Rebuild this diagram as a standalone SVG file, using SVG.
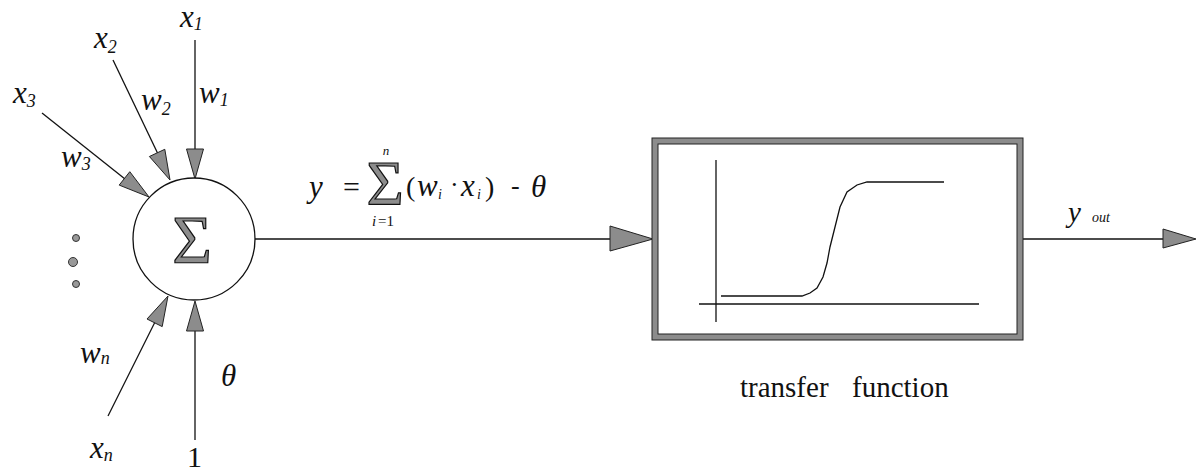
<svg xmlns="http://www.w3.org/2000/svg" width="1201" height="471" viewBox="0 0 1201 471">
<style>
.ln{stroke:#111;stroke-width:1.3;fill:none}
.ah{fill:#8c8c8c;stroke:#222;stroke-width:1}
.sig{fill:#8c8c8c;stroke:#111;stroke-width:1.2}
</style>
<rect width="1201" height="471" fill="#fff"/>
<g id="connectors">
<line class="ln" x1="195" y1="40" x2="195" y2="150"/>
<polygon class="ah" points="186.5,149 203.5,149 195,179"/>
<line class="ln" x1="113" y1="60" x2="158" y2="154"/>
<polygon class="ah" points="149.4,156.5 164.8,149.3 170,180"/>
<line class="ln" x1="42" y1="113" x2="125" y2="179"/>
<polygon class="ah" points="119.2,185.1 129.8,171.7 149,197"/>
<line class="ln" x1="108" y1="416" x2="155" y2="322"/>
<polygon class="ah" points="162.2,326.6 147,319 168,296"/>
<line class="ln" x1="195" y1="440" x2="195" y2="330"/>
<polygon class="ah" points="186.5,331 203.5,331 195,301"/>
<line class="ln" x1="255" y1="239" x2="612" y2="239"/>
<polygon class="ah" points="610,226 653,239 610,251"/>
<line class="ln" x1="1023" y1="239" x2="1165" y2="239"/>
<polygon class="ah" points="1163,229 1196,239 1163,248"/>
</g>
<g id="inputs" font-family="Liberation Serif" fill="#111">
<text font-style="italic" x="180" y="27" font-size="31">x<tspan font-size="18" dy="3">1</tspan></text>
<text font-style="italic" x="199" y="103" font-size="31">w<tspan font-size="18" dy="3">1</tspan></text>
<text font-style="italic" x="94" y="48" font-size="31">x<tspan font-size="18" dy="5">2</tspan></text>
<text font-style="italic" x="141" y="110" font-size="31">w<tspan font-size="18" dy="5">2</tspan></text>
<text font-style="italic" x="13" y="103" font-size="31">x<tspan font-size="18" dy="4">3</tspan></text>
<text font-style="italic" x="61" y="167" font-size="31">w<tspan font-size="18" dy="3">3</tspan></text>
<text font-style="italic" x="80" y="363" font-size="31">w<tspan font-size="18" dy="1">n</tspan></text>
<text font-style="italic" x="90" y="458" font-size="31">x<tspan font-size="18" dy="3">n</tspan></text>
<text font-style="italic" x="221" y="386" font-size="31">θ</text>
<text x="187" y="467" font-size="30">1</text>
<circle cx="76" cy="238" r="3.5" fill="#999" stroke="#333" stroke-width="1"/>
<circle cx="73" cy="262" r="4.5" fill="#999" stroke="#333" stroke-width="1"/>
<circle cx="76" cy="284" r="3.5" fill="#999" stroke="#333" stroke-width="1"/>
</g>
<g id="sum-node" font-family="Liberation Serif">
<circle cx="194" cy="239" r="61" fill="#fff" stroke="#111" stroke-width="1.3"/>
<text class="sig" x="192" y="262" font-size="68" text-anchor="middle">Σ</text>
</g>
<g id="formula" font-family="Liberation Serif" fill="#111">
<text font-style="italic" x="309" y="197" font-size="31">y</text>
<text x="343" y="197" font-size="30">=</text>
<text class="sig" x="385" y="205" font-size="64" text-anchor="middle">Σ</text>
<text font-style="italic" x="386" y="155" font-size="13" text-anchor="middle">n</text>
<text font-style="italic" x="372" y="226" font-size="15">i</text>
<text x="378" y="226" font-size="15">=1</text>
<text x="406" y="196" font-size="28">(</text>
<text font-style="italic" x="417" y="196" font-size="31">w</text>
<text font-style="italic" x="438" y="199" font-size="14">i</text>
<text x="450" y="193" font-size="26">·</text>
<text font-style="italic" x="461" y="196" font-size="31">x</text>
<text font-style="italic" x="477" y="199" font-size="14">i</text>
<text x="485" y="196" font-size="28">)</text>
<text x="511" y="194" font-size="26">-</text>
<text font-style="italic" x="531" y="197" font-size="31">θ</text>
</g>
<g id="transfer-function">
<rect x="652" y="138" width="371" height="202" fill="#8c8c8c" stroke="#222" stroke-width="1"/>
<rect x="658" y="144" width="359" height="190" fill="#fff" stroke="#222" stroke-width="1"/>
<line class="ln" x1="716" y1="160" x2="716" y2="322" stroke-width="1"/>
<line class="ln" x1="699" y1="304" x2="979" y2="304" stroke-width="1"/>
<polyline class="ln" stroke-width="1.6" points="721,296 802,296 810,293 817,288 823,277 827,263 830,247 835,227 840,207 847,192 857,185 867,182 944,182"/>
<text font-family="Liberation Serif" fill="#111" font-size="29" y="397"><tspan x="740">transfer</tspan><tspan x="852">function</tspan></text>
</g>
<g id="output" font-family="Liberation Serif" fill="#111">
<text font-style="italic" x="1068" y="222" font-size="29">y</text>
<text font-style="italic" x="1092" y="222" font-size="14">out</text>
</g>
</svg>
